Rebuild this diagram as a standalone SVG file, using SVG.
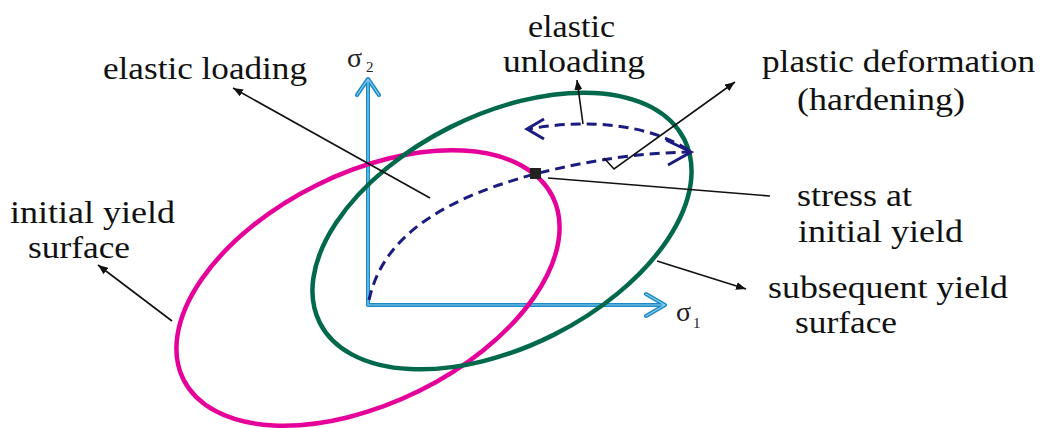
<svg xmlns="http://www.w3.org/2000/svg" width="1045" height="428" viewBox="0 0 1045 428">
<defs>
<style>
text{font-family:'Liberation Serif','Times New Roman',Tinos,'Noto Serif','DejaVu Serif','Nimbus Roman','FreeSerif',serif}
.lbl{font-size:32px;fill:#111}
.sym{fill:#222}
.lead{stroke:#111;stroke-width:1.6;fill:none}
.axo{stroke:#1a8ac6;stroke-width:4;fill:none;stroke-linecap:round;stroke-linejoin:round}
.axi{stroke:#8ccdee;stroke-width:1.2;fill:none;stroke-linecap:round;stroke-linejoin:round}
.dash{stroke:#1b1b80;stroke-width:3;fill:none;stroke-dasharray:10 6}
.chev{stroke:#1b1b80;stroke-width:3;fill:none;stroke-linejoin:miter}
</style>
<marker id="ah" viewBox="0 0 10 8" refX="10" refY="4" markerWidth="10" markerHeight="8" markerUnits="userSpaceOnUse" orient="auto">
<path d="M0,0 L10,4 L0,8 Z" fill="#111"/>
</marker>
</defs>
<rect width="1045" height="428" fill="#fff"/>

<g id="axes">
<path class="axo" d="M368,305 V80 M357,95 L368,79 L379,95 M368,305 H664 M646,294 L665,305 L646,316"/>
<path class="axi" d="M368,305 V80 M357,95 L368,79 L379,95 M368,305 H664 M646,294 L665,305 L646,316"/>
<text class="sym" x="347" y="67" font-size="28">σ</text>
<text class="sym" x="366" y="72" font-size="15">2</text>
<text class="sym" x="676" y="321" font-size="28">σ</text>
<text class="sym" x="693" y="328" font-size="15">1</text>
</g>

<g id="initial-yield-surface">
<ellipse cx="368" cy="288" rx="206" ry="115" transform="rotate(-26.3 368 288)" fill="none" stroke="#e6009a" stroke-width="4.5"/>
</g>

<g id="subsequent-yield-surface">
<ellipse cx="502" cy="231" rx="204" ry="116" transform="rotate(-26.7 502 231)" fill="none" stroke="#00684b" stroke-width="4.5"/>
</g>

<g id="stress-path">
<path class="dash" d="M369,300 C380,250 420,205 535,174 C590,160 640,153 688,152"/>
<path class="chev" d="M666,140 L691,152 L668,165"/>
<path class="dash" d="M688,150 C650,125 590,118 529,129"/>
<path class="chev" d="M544,119 L527,129 L544,139"/>
<rect x="530" y="168" width="11" height="11" fill="#222"/>
</g>

<g id="connectors">
<line class="lead" x1="430" y1="198" x2="233" y2="88" marker-end="url(#ah)"/>
<line class="lead" x1="172" y1="321" x2="98" y2="265" marker-end="url(#ah)"/>
<line class="lead" x1="583" y1="124" x2="577" y2="80" marker-end="url(#ah)"/>
<polyline class="lead" points="604,158 614,169 735,82" marker-end="url(#ah)"/>
<line class="lead" x1="548" y1="178" x2="770" y2="196"/>
<line class="lead" x1="657" y1="261" x2="746" y2="289" marker-end="url(#ah)"/>
</g>

<g id="label-elastic-loading">
<text class="lbl" x="103" y="79" textLength="204" lengthAdjust="spacingAndGlyphs">elastic loading</text>
</g>
<g id="label-elastic-unloading">
<text class="lbl" x="528" y="37" textLength="87" lengthAdjust="spacingAndGlyphs">elastic</text>
<text class="lbl" x="503" y="72" textLength="142" lengthAdjust="spacingAndGlyphs">unloading</text>
</g>
<g id="label-plastic-deformation">
<text class="lbl" x="762" y="72" textLength="273" lengthAdjust="spacingAndGlyphs">plastic deformation</text>
<text class="lbl" x="797" y="110" textLength="168" lengthAdjust="spacingAndGlyphs">(hardening)</text>
</g>
<g id="label-stress-initial-yield">
<text class="lbl" x="797" y="206" textLength="115" lengthAdjust="spacingAndGlyphs">stress at</text>
<text class="lbl" x="798" y="242" textLength="165" lengthAdjust="spacingAndGlyphs">initial yield</text>
</g>
<g id="label-subsequent-yield-surface">
<text class="lbl" x="768" y="298" textLength="240" lengthAdjust="spacingAndGlyphs">subsequent yield</text>
<text class="lbl" x="795" y="333" textLength="102" lengthAdjust="spacingAndGlyphs">surface</text>
</g>
<g id="label-initial-yield-surface">
<text class="lbl" x="10" y="223" textLength="165" lengthAdjust="spacingAndGlyphs">initial yield</text>
<text class="lbl" x="28" y="258" textLength="102" lengthAdjust="spacingAndGlyphs">surface</text>
</g>
</svg>
